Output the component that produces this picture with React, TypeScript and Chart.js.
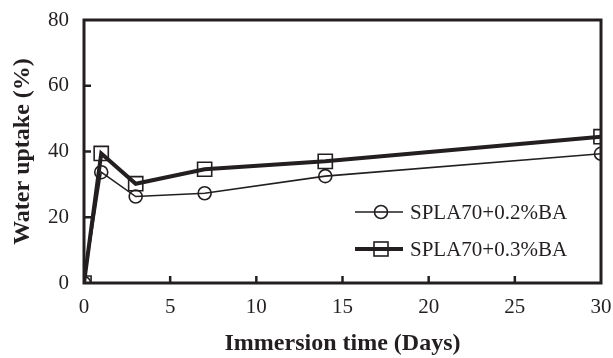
import React, { useEffect, useRef } from "react";
import { Chart, registerables } from "chart.js";

Chart.register(...registerables);

const days02 = [0, 1, 3, 7, 14, 30];
const uptake02 = [0, 33.7, 26.3, 27.3, 32.5, 39.3];
const days03 = [0, 1, 3, 7, 14, 30];
const uptake03 = [0, 39.4, 30.2, 34.6, 37.0, 44.5];
const seriesNames = ["SPLA70+0.2%BA", "SPLA70+0.3%BA"];
const xTitle = "Immersion time (Days)";
const yTitle = "Water uptake (%)";

const SERIF = "'Liberation Serif', 'Times New Roman', serif";

const framePlugin = {
  id: "frame",
  afterDraw(chart: any) {
    const { ctx, chartArea, scales } = chart;
    const { left, right, top, bottom } = chartArea;
    ctx.save();
    ctx.strokeStyle = "#231f20";
    ctx.lineWidth = 3;
    ctx.strokeRect(left, top, right - left, bottom - top);
    ctx.lineWidth = 2.5;
    const xs = scales.x;
    xs.ticks.forEach((t: any) => {
      const px = xs.getPixelForValue(t.value);
      if (px <= left + 1 || px >= right - 1) return;
      ctx.beginPath();
      ctx.moveTo(px, bottom);
      ctx.lineTo(px, bottom - 7);
      ctx.stroke();
    });
    const ys = scales.y;
    ys.ticks.forEach((t: any) => {
      const py = ys.getPixelForValue(t.value);
      if (py <= top + 1 || py >= bottom - 1) return;
      ctx.beginPath();
      ctx.moveTo(left, py);
      ctx.lineTo(left + 7, py);
      ctx.stroke();
    });
    const ds = chart.data.datasets;
    const rows = [212, 249];
    ds.forEach((d: any, i: number) => {
      const y = rows[i];
      const x0 = 355;
      const x1 = 403;
      const cx = (x0 + x1) / 2 + 2;
      ctx.strokeStyle = "#231f20";
      ctx.lineWidth = d.borderWidth;
      ctx.beginPath();
      ctx.moveTo(x0, y);
      ctx.lineTo(x1, y);
      ctx.stroke();
      ctx.lineWidth = 1.6;
      ctx.fillStyle = "#ffffff";
      if (d.pointStyle === "circle") {
        ctx.beginPath();
        ctx.arc(cx, y, 6.5, 0, Math.PI * 2);
        ctx.fill();
        ctx.stroke();
        ctx.lineWidth = d.borderWidth;
        ctx.beginPath();
        ctx.moveTo(cx - 6.5, y);
        ctx.lineTo(cx + 6.5, y);
        ctx.stroke();
      } else {
        ctx.fillRect(cx - 7, y - 7, 14, 14);
        ctx.strokeRect(cx - 7, y - 7, 14, 14);
        ctx.lineWidth = d.borderWidth;
        ctx.beginPath();
        ctx.moveTo(cx - 7, y);
        ctx.lineTo(cx + 7, y);
        ctx.stroke();
      }
      ctx.fillStyle = "#231f20";
      ctx.font = `21px ${SERIF}`;
      ctx.textBaseline = "middle";
      ctx.textAlign = "left";
      ctx.fillText(d.label, 410, y + 1);
    });
    ctx.restore();
  },
};

export default function App() {
  const ref = useRef<HTMLCanvasElement>(null);
  useEffect(() => {
    document.body.style.margin = "0";
    const canvas = ref.current!;
    const chart = new Chart(canvas, {
      type: "line",
      data: {
        datasets: [
          {
            label: seriesNames[0],
            data: days02.map((x, i) => ({ x, y: uptake02[i] })),
            borderColor: "#231f20",
            borderWidth: 1.6,
            pointStyle: "circle",
            pointRadius: 6.5,
            pointBorderWidth: 1.6,
            pointBorderColor: "#231f20",
            pointBackgroundColor: "rgba(0,0,0,0)",
            tension: 0,
          },
          {
            label: seriesNames[1],
            data: days03.map((x, i) => ({ x, y: uptake03[i] })),
            borderColor: "#231f20",
            borderWidth: 4,
            pointStyle: "rect",
            pointRadius: 10,
            pointBorderWidth: 1.6,
            pointBorderColor: "#231f20",
            pointBackgroundColor: "rgba(0,0,0,0)",
            tension: 0,
          },
        ],
      },
      options: {
        animation: false,
        responsive: false,
        devicePixelRatio: 1,
        layout: { padding: { top: 20, right: 12, left: 0, bottom: 0 } },
        plugins: { legend: { display: false }, tooltip: { enabled: false } },
        scales: {
          x: {
            type: "linear",
            min: 0,
            max: 30,
            grid: { display: false, drawTicks: false },
            border: { display: false },
            ticks: {
              stepSize: 5,
              padding: 12,
              color: "#231f20",
              font: { family: SERIF, size: 21 },
            },
            title: {
              display: true,
              text: xTitle,
              color: "#231f20",
              font: { family: SERIF, size: 24, weight: "bold" },
              padding: { top: 0, bottom: 0 },
            },
            afterFit(scale: any) {
              scale.height = 75;
              scale.paddingLeft = 0;
              scale.paddingRight = 0;
            },
          },
          y: {
            min: 0,
            max: 80,
            grid: { display: false, drawTicks: false },
            border: { display: false },
            ticks: {
              stepSize: 20,
              padding: 15,
              color: "#231f20",
              font: { family: SERIF, size: 21 },
            },
            title: {
              display: true,
              text: yTitle,
              color: "#231f20",
              font: { family: SERIF, size: 24, weight: "bold" },
              padding: { top: 8, bottom: 0 },
            },
            afterFit(scale: any) {
              scale.width = 84;
              scale.paddingTop = 0;
              scale.paddingBottom = 0;
            },
          },
        },
      },
      plugins: [framePlugin],
    });
    return () => chart.destroy();
  }, []);
  return (
    <div style={{ width: 613, height: 358 }}>
      <canvas ref={ref} width={613} height={358} style={{ display: "block" }} />
    </div>
  );
}
